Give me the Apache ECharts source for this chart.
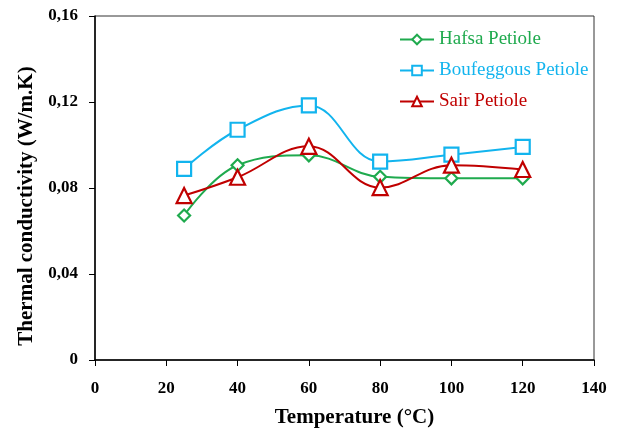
<!DOCTYPE html>
<html>
<head>
<meta charset="utf-8">
<script src="https://cdn.jsdelivr.net/npm/echarts@6/dist/echarts.min.js"></script>
<style>
  html, body { margin: 0; padding: 0; background: #fff; }
  #chart { width: 620px; height: 433px; }
</style>
</head>
<body>
<div id="chart"></div>
<script>
const temperatures = [25, 40, 60, 80, 100, 120];
const hafsa = [0.0672, 0.0906, 0.0952, 0.0852, 0.0845, 0.0845];
const boufeggous = [0.0889, 0.1071, 0.1184, 0.0923, 0.0955, 0.0991];
const sair = [0.0765, 0.0850, 0.0994, 0.0802, 0.0906, 0.0886];
const seriesNames = ["Hafsa Petiole", "Boufeggous Petiole", "Sair Petiole"];
const seriesColors = ["#1FAA4E", "#12B4EE", "#C00000"];
const seriesSymbols = ["diamond", "rect", "triangle"];

const font = "'Liberation Serif', 'Times New Roman', serif";
const chart = echarts.init(document.getElementById("chart"));

const pairs = (ys) => temperatures.map((t, i) => [t, ys[i]]);
const allData = [hafsa, boufeggous, sair];

chart.setOption({
  animation: false,
  grid: { left: 95, right: 26, top: 16, bottom: 72, show: true, borderColor: "#333", borderWidth: 1 },
  legend: {
    orient: "vertical",
    left: 399,
    top: 30,
    padding: 0,
    itemWidth: 34,
    itemHeight: 12,
    itemGap: 12,
    textStyle: { fontFamily: font, fontSize: 19 },
    data: seriesNames.map((n, i) => ({ name: n, textStyle: { color: seriesColors[i] } }))
  },
  xAxis: {
    type: "value",
    min: 0, max: 140, interval: 20,
    name: "Temperature (°C)",
    nameLocation: "middle",
    nameGap: 47,
    nameTextStyle: { fontFamily: font, fontSize: 21, fontWeight: "bold", color: "#000", padding: [0, 0, 0, 20] },
    axisLine: { lineStyle: { color: "#000", width: 1.5 } },
    axisTick: { show: true, length: 6, lineStyle: { color: "#000" } },
    axisLabel: { fontFamily: font, fontSize: 17, fontWeight: "bold", color: "#000", margin: 20 },
    splitLine: { show: false }
  },
  yAxis: {
    type: "value",
    min: 0, max: 0.16, interval: 0.04,
    name: "Thermal conductivity (W/m.K)",
    nameLocation: "middle",
    nameGap: 58,
    nameTextStyle: { fontFamily: font, fontSize: 21, fontWeight: "bold", color: "#000", padding: [0, 36, 0, 0] },
    axisLine: { show: true, lineStyle: { color: "#000", width: 1.5 } },
    axisTick: { show: true, length: 6, lineStyle: { color: "#000" } },
    axisLabel: {
      fontFamily: font, fontSize: 17, fontWeight: "bold", color: "#000", margin: 17,
      formatter: (v) => (v === 0 ? "0" : v.toFixed(2).replace(".", ","))
    },
    splitLine: { show: false }
  },
  series: seriesNames.map((n, i) => ({
    name: n,
    type: "line",
    smooth: 0.4,
    data: pairs(allData[i]),
    symbol: seriesSymbols[i],
    symbolSize: seriesSymbols[i] === "diamond" ? 12 : (seriesSymbols[i] === "triangle" ? 15 : 14),
    lineStyle: { color: seriesColors[i], width: 2 },
    itemStyle: { color: "#fff", borderColor: seriesColors[i], borderWidth: 2.2 }
  }))
});
</script>
</body>
</html>
